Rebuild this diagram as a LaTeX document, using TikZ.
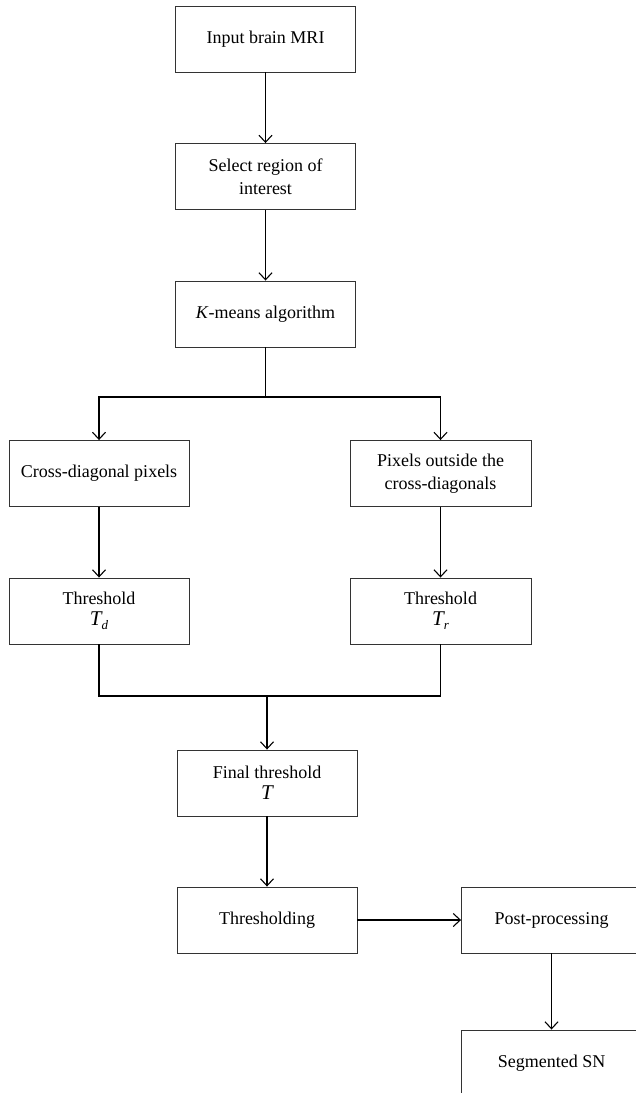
\documentclass[tikz,border=0pt]{standalone}
\usepackage{fontspec}
\setmainfont{Liberation Serif}
\usetikzlibrary{arrows.meta}
\tikzset{
  box/.style={draw=black!80, line width=0.9pt, fill=white, minimum width=180pt, minimum height=66pt, inner sep=2pt, align=center, font=\fontsize{18}{23}\selectfont},
  conn/.style={draw=black, line width=1.2pt},
  arr/.style={conn, -{Straight Barb[length=7pt,width=13pt,line width=1.1pt]}},
  darr/.style={conn, {Straight Barb[length=7pt,width=13pt,line width=1.1pt]}-{Straight Barb[length=7pt,width=13pt,line width=1.1pt]}}
}
\newcommand{\bigT}[1]{{\fontsize{21}{21}\selectfont\itshape T}\raisebox{-0.45ex}{\fontsize{13}{13}\selectfont\itshape #1}}
\begin{document}
\begin{tikzpicture}[x=1pt,y=-1pt]
\useasboundingbox (0,0) rectangle (636,1093);
\clip (0,0) rectangle (636,1093);
\fill[white] (0,0) rectangle (636,1093);

\node[box] (in)  at (265.5,39)    {Input brain MRI};
\node[box] (sel) at (265.5,176.5) {Select region of\\interest};
\node[box] (km)  at (265.5,314)   {\textit{K}-means algorithm};
\node[box] (cd)  at (99,473.5)    {Cross-diagonal pixels};
\node[box, minimum width=181pt] (po) at (440.5,473.5) {Pixels outside the\\cross-diagonals};
\node[box] (td)  at (99,611)      {Threshold\\[-2pt]\bigT{d}};
\node[box, minimum width=181pt] (tr) at (440.5,611) {Threshold\\[-2pt]\bigT{r}};
\node[box] (ft)  at (267,783)     {Final threshold\\[-2pt]{\fontsize{21}{21}\selectfont\itshape T}};
\node[box] (th)  at (267,920)     {Thresholding};
\node[box] (pp)  at (551.5,920)   {Post-processing};
\node[box] (sg)  at (551.5,1063)  {Segmented SN};

\coordinate (split) at (265.5,397);
\coordinate (merge) at (267,696);

\draw[arr] (in) -- (sel);
\draw[arr] (sel) -- (km);
\draw[conn] (km.south) -- (split);
\draw[darr] (cd.north) |- (split) -| (po.north);
\draw[arr] (cd) -- (td);
\draw[arr] (po) -- (tr);
\draw[conn] (td.south) |- (merge) -| (tr.south);
\draw[arr] (merge) -- (ft.north);
\draw[arr] (ft) -- (th);
\draw[arr] (th) -- (pp);
\draw[arr] (pp) -- (sg);
\end{tikzpicture}
\end{document}
